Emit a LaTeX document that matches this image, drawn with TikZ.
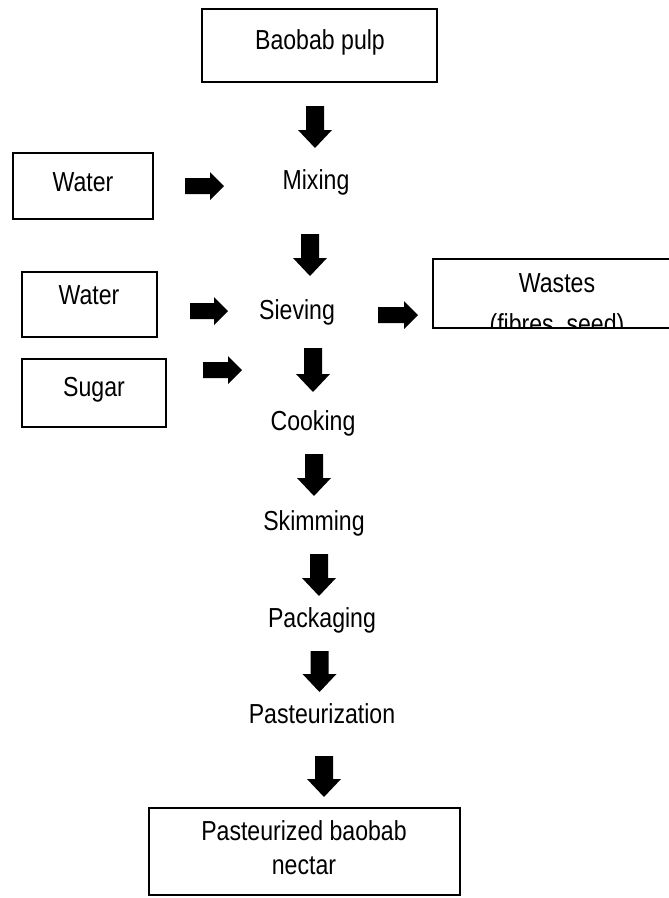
\documentclass[tikz,border=0pt]{standalone}
\usepackage{fontspec}
\setmainfont{Liberation Sans}[FakeStretch=0.84]
\newcommand\dnarr[4]{% name, x, top, tip
  \coordinate (#1) at (#2,#3);
  \fill[blk] ({#2-9},#3) -- ({#2+9},#3) -- ({#2+9},{#4-18}) -- ({#2+17},{#4-18}) -- (#2,#4) -- ({#2-17},{#4-18}) -- ({#2-9},{#4-18}) -- cycle;}
\newcommand\rtarr[4]{% name, left, tip, y
  \coordinate (#1) at (#2,#4);
  \fill[blk] (#2,{#4-8}) -- ({#3-14},{#4-8}) -- ({#3-14},{#4-14}) -- (#3,#4) -- ({#3-14},{#4+14}) -- ({#3-14},{#4+8}) -- (#2,{#4+8}) -- cycle;}
\begin{document}
\begin{tikzpicture}[x=1pt,y=-1pt,
  blk/.style={fill=black},
  boxst/.style={draw=black,line width=1.5pt,inner sep=0pt},
  lbl/.style={inner sep=0pt,font=\fontsize{27.5}{33}\selectfont,align=center}]
\useasboundingbox (0,0) rectangle (669,898);
\fill[white] (0,0) rectangle (669,898);
% boxes
\node[boxst,minimum width=235,minimum height=73] (pulp) at (319.5,45.5) {};
\node[lbl] (pulpt) at (320,42) {Baobab pulp};
\node[boxst,minimum width=140,minimum height=66] (water1) at (83,186) {};
\node[lbl] (water1t) at (83,182) {Water};
\node[boxst,minimum width=135,minimum height=65] (water2) at (89.5,304.5) {};
\node[lbl] (water2t) at (89,295) {Water};
\node[boxst,minimum width=144,minimum height=68] (sugar) at (94,393) {};
\node[lbl] (sugart) at (94,390) {Sugar};
\node[boxst,minimum width=311,minimum height=87] (nectar) at (304.5,851.5) {};
\node[lbl] (nectart1) at (304,831) {Pasteurized baobab};
\node[lbl] (nectart2) at (304,866) {nectar};
% wastes box (cut off)
\draw[line width=1.5pt] (433,259) rectangle (680,328);
\coordinate (wastes) at (433,259);
\node[lbl] (wastest) at (557,283) {Wastes};
\begin{scope}
\clip (434,259) rectangle (669,327);
\node[lbl] (wastest2) at (557,326) {(fibres, seed)};
\end{scope}
% steps
\node[lbl] (mixing) at (316,182) {Mixing};
\node[lbl] (sieving) at (297,312) {Sieving};
\node[lbl] (cooking) at (313,423) {Cooking};
\node[lbl] (skimming) at (314,523) {Skimming};
\node[lbl] (packaging) at (322,620) {Packaging};
\node[lbl] (pasteur) at (322,714) {Pasteurization};
% block arrows
\dnarr{d1}{315}{106}{148}
\dnarr{d2}{310}{234}{276}
\dnarr{d3}{313}{348}{392}
\dnarr{d4}{314}{454}{496}
\dnarr{d5}{319}{554}{596}
\dnarr{d6}{319.5}{651}{692}
\dnarr{d7}{324}{756}{797}
\rtarr{r1}{185}{224}{186}
\rtarr{r2}{190}{228}{311}
\rtarr{r3}{378}{418}{315}
\rtarr{r4}{203}{242}{370}
\end{tikzpicture}
\end{document}
